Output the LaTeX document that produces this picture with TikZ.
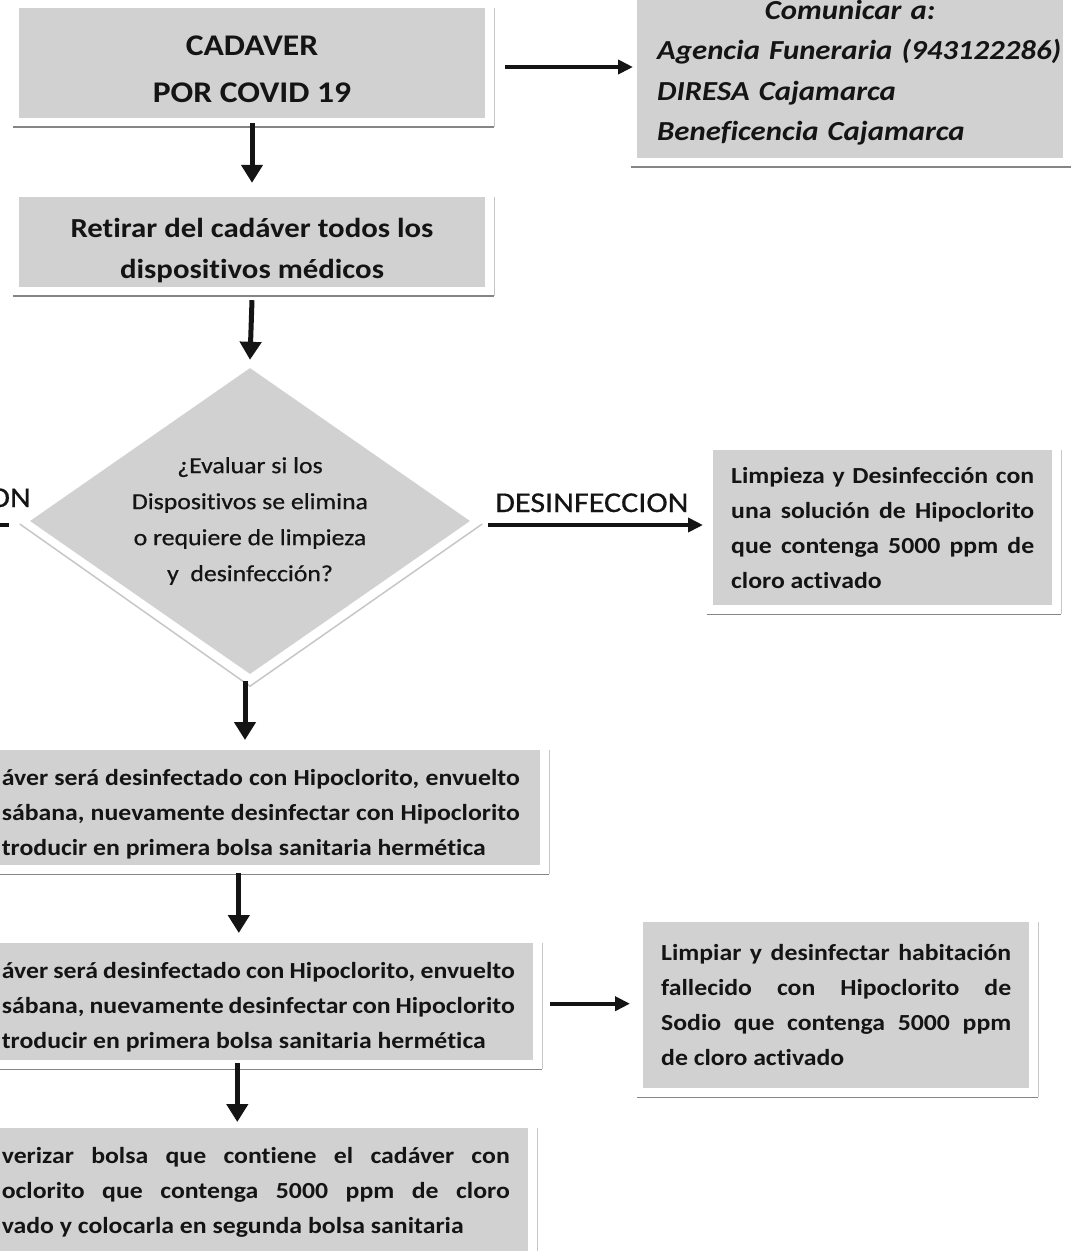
\documentclass[tikz,border=0pt]{standalone}
\usepackage{fontspec}
\setmainfont{Carlito}[FakeStretch=1.12, Ligatures=NoCommon]
\usetikzlibrary{shapes.geometric,arrows.meta,positioning,calc}
\definecolor{boxgray}{RGB}{209,209,209}
\definecolor{ink}{RGB}{20,20,20}
\newcommand\padtop[1]{\rule{0pt}{#1}}
\tikzset{
  box/.style={fill=boxgray, text=ink, inner ysep=0pt, font=\bfseries\fontsize{23}{35}\selectfont},
  jbox/.style={box, align=justify},
  varrow/.style={-{Triangle[length=18pt,width=21pt]}, line width=5pt, ink},
  harrow/.style={-{Triangle[length=15pt,width=14pt]}, line width=4pt, ink},
  cardside/.style={black!22, line width=1pt},
  cardbase/.style={black!48, line width=1.8pt},
}
\begin{document}
\begin{tikzpicture}[x=1pt,y=-1pt]
\useasboundingbox (0,0) rectangle (1071,1251);
\clip (0,0) rectangle (1071,1251);
\fill[white] (0,0) rectangle (1071,1251);

% column on the left
\node[box, align=center, font=\bfseries\fontsize{30}{47}\selectfont, minimum width=466pt, minimum height=110pt] (cadaver) at (252,63) {\padtop{33pt}CADAVER\\POR COVID 19};
\node[box, align=center, font=\bfseries\fontsize{27.5}{41}\selectfont, minimum width=466pt, minimum height=90pt] (retirar) at (252,242) {\padtop{37pt}Retirar del cadáver todos los\\dispositivos médicos};
\node[diamond, fill=boxgray, text=ink, aspect=1.44, inner sep=0pt, minimum width=440pt, minimum height=306pt, align=center, font=\fontsize{23}{36}\selectfont\addfontfeature{FakeBold=0.6}] (dec) at (250,521)
  {¿Evaluar si los\\Dispositivos se elimina\\o requiere de limpieza\\y~ desinfección?};
\node[jbox, text width=518pt, inner xsep=20pt, minimum height=115pt, anchor=north east] (box3) at (540,750)
  {\padtop{30pt}áver será desinfectado con Hipoclorito, envuelto\linebreak sábana, nuevamente desinfectar con Hipoclorito\linebreak troducir en primera bolsa sanitaria hermética};
\node[jbox, text width=513pt, inner xsep=18pt, minimum height=117pt, anchor=north east] (box4) at (533,943)
  {\padtop{27pt}áver será desinfectado con Hipoclorito, envuelto\linebreak sábana, nuevamente desinfectar con Hipoclorito\linebreak troducir en primera bolsa sanitaria hermética};
\node[jbox, text width=508pt, inner xsep=18pt, minimum height=128pt, anchor=north east] (box5) at (528,1128)
  {verizar bolsa que contiene el cadáver con\linebreak oclorito que contenga 5000 ppm de cloro\linebreak vado y colocarla en segunda bolsa sanitaria};

% boxes on the right
\node[box, align=left, font=\bfseries\itshape\fontsize{27.5}{40.5}\selectfont, text width=386pt, inner xsep=20pt, minimum height=170pt, anchor=south west] (comunicar) at (637,158)
  {\makebox[\hsize]{Comunicar a:}\\\mbox{Agencia Funeraria (943122286)}\\DIRESA Cajamarca\\Beneficencia Cajamarca};
\node[jbox, text width=303pt, inner xsep=18pt, minimum height=155pt, anchor=north west] (limpieza) at (713,450)
  {Limpieza y Desinfección con\linebreak una solución de Hipoclorito\linebreak que contenga 5000 ppm de\linebreak cloro activado};
\node[jbox, text width=350pt, inner xsep=18pt, minimum height=166pt, anchor=north west] (habit) at (643,922)
  {Limpiar y desinfectar habitación\linebreak fallecido con Hipoclorito de\linebreak Sodio que contenga 5000 ppm\linebreak de cloro activado};

% labels of the branches
\node[text=ink, font=\fontsize{28.7}{30}\selectfont\addfontfeature{FakeBold=0.6}, anchor=base west, inner sep=0pt] (lbldes) at (495,512) {DESINFECCION};
\node[text=ink, font=\fontsize{28.7}{30}\selectfont\addfontfeature{FakeBold=0.6}, anchor=base east, inner sep=0pt] (lblelim) at (31,507) {ON};
\coordinate (elimend) at ($(dec.west)+(-90,4)$);

% card edges
\foreach \n in {cadaver,retirar,box3,box4,box5,comunicar,limpieza,habit}{
  \draw[cardside] ($(\n.north east)+(9,0)$) -- ($(\n.south east)+(9,9)$);
  \draw[cardbase] ($(\n.south west)+(-6,9)$) -- ($(\n.south east)+(9,9)$);
}
\draw[cardside, line width=1.5pt] ($(dec.west)+(-10,3)$) -- ($(dec.south)+(0,12)$) -- ($(dec.east)+(12,3)$);

% arrows
\draw[varrow] ($(cadaver.south)+(0,5)$) -- ($(retirar.north)+(0,-14)$);
\draw[varrow] ($(retirar.south)+(0,13)$) -- ($(dec.north)+(0,-8)$);
\draw[varrow] ($(dec.south)+(-5,7)$) -- ($(dec.south |- box3.north)+(-5,-10)$);
\draw[varrow] ($(box3.south)+(-22,8)$) -- ($(box3.south |- box4.north)+(-22,-10)$);
\draw[varrow] ($(box4.south)+(-21,3)$) -- ($(box4.south |- box5.north)+(-21,-6)$);
\draw[harrow] ($(cadaver.east)+(20,4)$) -- ($(cadaver.east -| comunicar.west)+(-4,4)$);
\draw[harrow] ($(dec.east)+(18,4)$) -- ($(dec.east -| limpieza.west)+(-10,4)$);
\draw[harrow] ($(dec.west)+(-21,4)$) -- (elimend);
\draw[harrow] ($(box4.east)+(17,2)$) -- ($(box4.east -| habit.west)+(-13,2)$);
\end{tikzpicture}
\end{document}
